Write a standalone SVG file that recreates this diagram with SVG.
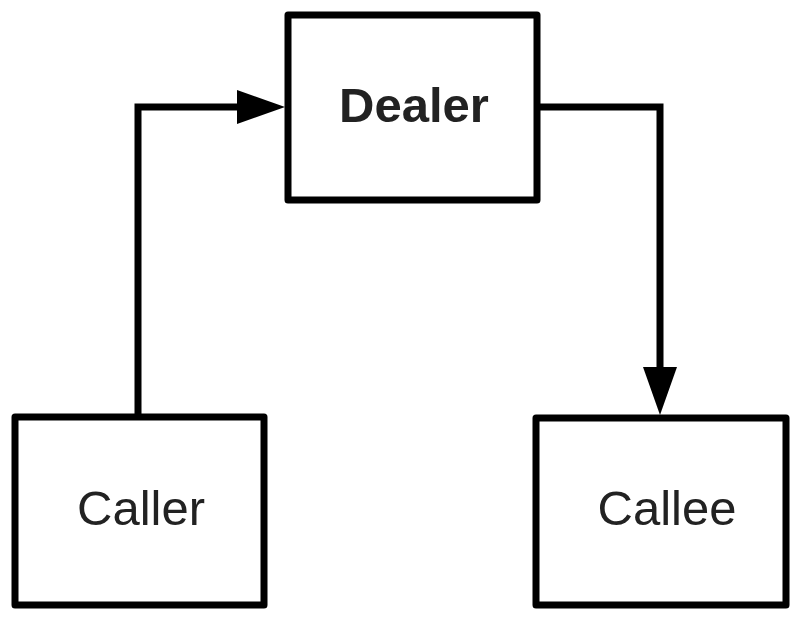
<svg xmlns="http://www.w3.org/2000/svg" width="800" height="619" viewBox="0 0 800 619">
<style>
.box{fill:#fff;stroke:#000;stroke-width:7;stroke-linejoin:round}
.lbl{font-family:"Liberation Sans",Arial,sans-serif;font-size:49px;fill:#222;text-anchor:middle}
.conn{fill:none;stroke:#000;stroke-width:7;stroke-linejoin:miter}
</style>
<defs>
<marker id="arr" markerUnits="userSpaceOnUse" markerWidth="50" markerHeight="36" refX="23" refY="17" orient="auto">
<path d="M0,0 L48,17 L0,34 Z" fill="#000"/>
</marker>
</defs>
<rect width="800" height="619" fill="#fff"/>
<g id="connectors">
<path class="conn" d="M138,417 L138,107 L260,107" marker-end="url(#arr)"/>
<path class="conn" d="M537,107 L660,107 L660,390" marker-end="url(#arr)"/>
</g>
<g id="dealer">
<rect class="box" x="288" y="15" width="249" height="185"/>
<text class="lbl" x="414" y="122" font-weight="bold">Dealer</text>
</g>
<g id="caller">
<rect class="box" x="15" y="417" width="249" height="188"/>
<text class="lbl" x="141" y="525">Caller</text>
</g>
<g id="callee">
<rect class="box" x="536" y="418" width="250" height="187"/>
<text class="lbl" x="667" y="525">Callee</text>
</g>
</svg>
